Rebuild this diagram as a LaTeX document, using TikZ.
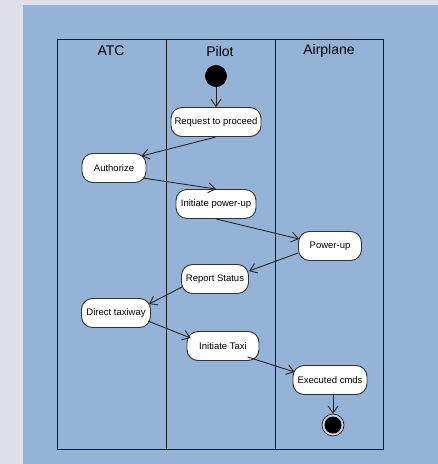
\documentclass[tikz,border=0pt]{standalone}
\usepackage{fontspec}
\setmainfont{Liberation Sans}
\usetikzlibrary{arrows.meta,calc}
\definecolor{pagebg}{RGB}{224,224,234}
\definecolor{panel}{RGB}{149,179,215}
\definecolor{ring}{RGB}{196,212,232}
\begin{document}
\begin{tikzpicture}[x=1pt,y=-1pt,
  act/.style={draw=black!80, line width=0.9pt, fill=white, rounded corners=11pt,
    minimum height=29pt, inner sep=0pt, font=\fontsize{9.5}{11}\selectfont},
  flow/.style={draw=black!85, line width=0.9pt, -{Straight Barb[length=7pt,width=10pt]}},
  lane/.style={draw=black!90, line width=1pt},
  head/.style={font=\fontsize{14}{16}\selectfont, inner sep=0pt}]
% page and panel
\fill[pagebg] (0,0) rectangle (438,464);
\useasboundingbox (0,0) rectangle (438,464);
\fill[panel] (23,5) rectangle (438,464);

% swimlanes
\coordinate (laneTL) at (57,39);
\coordinate (laneBR) at (383,449);
\draw[lane] (laneTL) rectangle (laneBR);
\draw[lane] (166,39) -- (166,449);
\draw[lane] (275,39) -- (275,449);
\node[head] (hatc) at (111,51) {ATC};
\node[head] (hpilot) at (220,51) {Pilot};
\node[head] (hplane) at (329,51) {Airplane};

% start and end states
\node[circle, fill=black, minimum size=22pt, inner sep=0pt] (start) at (216,76) {};
\node[circle, draw=black, line width=0.6pt, fill=ring, minimum size=22pt, inner sep=0pt] (end) at (333,425) {};
\node[circle, fill=black, minimum size=17pt, inner sep=0pt] (endcore) at (end) {};

% activities
\node[act, minimum width=90pt] (req)  at (216,122) {Request to proceed};
\node[act, minimum width=64pt] (auth) at (114,168) {Authorize};
\node[act, minimum width=80pt] (ipu)  at (216,204) {Initiate power-up};
\node[act, minimum width=63pt] (pu)   at (330,246) {Power-up};
\node[act, minimum width=67pt] (rep)  at (215,279) {Report Status};
\node[act, minimum width=69pt] (dir)  at (116,313) {Direct taxiway};
\node[act, minimum width=72pt] (taxi) at (223,346) {Initiate Taxi};
\node[act, minimum width=74pt] (exec) at (330,380) {Executed cmds};

% control flow
\draw[flow] (start) -- (req.north);
\draw[flow] (req.south) -- ($(auth.north east)+(-5,3)$);
\draw[flow] ($(auth.south east)+(-4,-5)$) -- (ipu.north);
\draw[flow] (ipu.south) -- ($(pu.west)+(1,-7)$);
\draw[flow] ($(pu.west)+(0,7)$) -- ($(rep.east)+(0,-8)$);
\draw[flow] ($(rep.west)+(1,8)$) -- ($(dir.east)+(-2,-9)$);
\draw[flow] ($(dir.east)+(-3,8)$) -- ($(taxi.west)+(4,-8)$);
\draw[flow] ($(taxi.south east)+(-12,-4)$) -- ($(exec.west)+(2,-8)$);
\draw[flow] (end |- exec.south) -- (end.north);
\end{tikzpicture}
\end{document}
